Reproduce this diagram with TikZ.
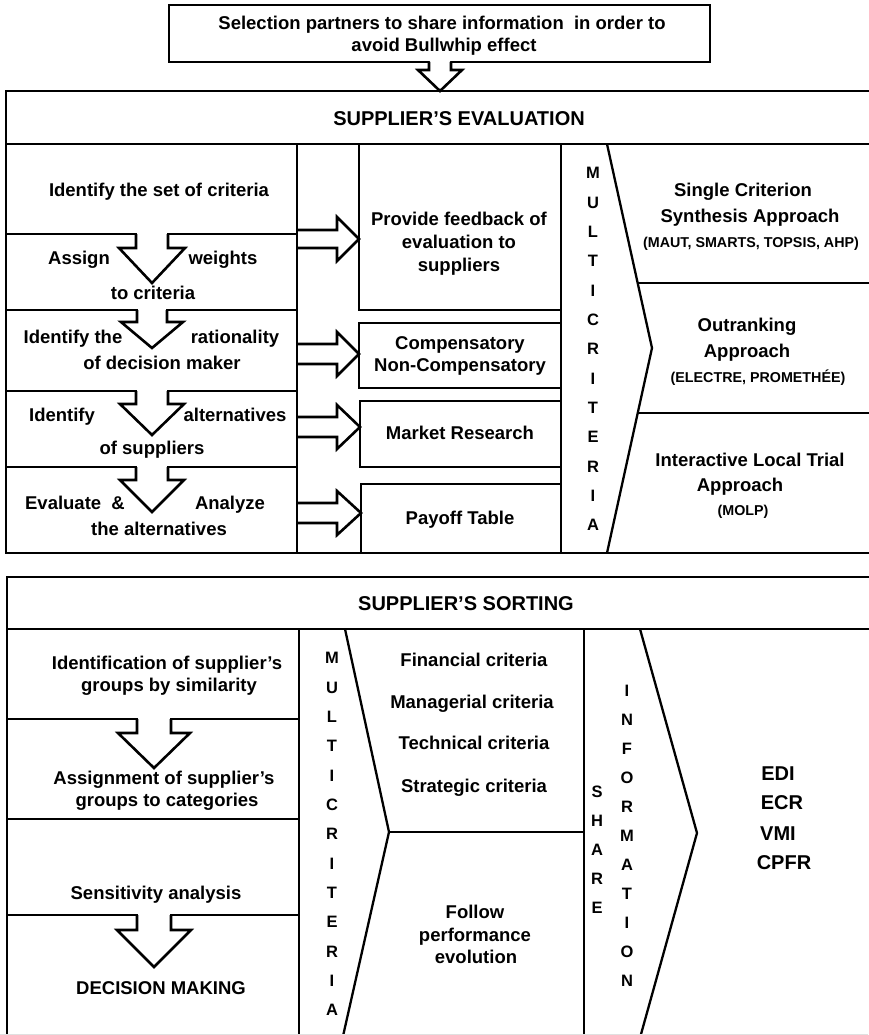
\documentclass[tikz,border=0pt]{standalone}
\usepackage{fontspec}
\setmainfont{Liberation Sans}

% block arrow pointing down: centre x, top y, stem half width, head half width, head y, tip y
\newcommand{\downblock}[6]{%
  \fill[white] (#1-#3+1.3,#2-2.5) rectangle (#1+#3-1.3,#5);
  \draw[frame, fill=white] (#1-#3,#2) -- (#1-#3,#5) -- (#1-#4,#5) -- (#1,#6)
    -- (#1+#4,#5) -- (#1+#3,#5) -- (#1+#3,#2);
}
% block arrow pointing right: start x, centre y, stem half height, head half height, head x, tip x
\newcommand{\rightblock}[6]{%
  \draw[frame, fill=white] (#1,#2-#3) -- (#5,#2-#3) -- (#5,#2-#4) -- (#6,#2)
    -- (#5,#2+#4) -- (#5,#2+#3) -- (#1,#2+#3);
}

\begin{document}
\begin{tikzpicture}[x=1pt, y=-1pt,
    frame/.style={line width=2.6pt, line join=miter},
    chev/.style={line width=2.3pt},
    lbl/.style={font=\fontsize{18.5}{22}\selectfont\bfseries, inner sep=0pt, anchor=base, yshift=-6.5pt},
    title/.style={font=\fontsize{20}{24}\selectfont\bfseries, inner sep=0pt, anchor=base, yshift=-7.2pt},
    method/.style={font=\fontsize{14.3}{17}\selectfont\bfseries, inner sep=0pt, anchor=base, yshift=-5.1pt},
    letter/.style={font=\fontsize{16.5}{20}\selectfont\bfseries, inner sep=0pt, anchor=base, yshift=-5.9pt}]
  \useasboundingbox (0,0) rectangle (868,1035);

  % horizontal block arrows (drawn first, the column line goes on top)
  \rightblock{297}{239}{9}{22}{337}{359}
  \rightblock{297}{354}{10}{22}{337}{359}
  \rightblock{297}{427}{10}{22}{337}{360}
  \rightblock{297}{513}{10}{22}{337}{361}

  % top box
  \draw[frame] (169,5) rectangle (710,62);
  \node[lbl] (sel1) at (442,23) {Selection partners to share information\ \ in order to};
  \node[lbl] (sel2) at (444,45) {avoid Bullwhip effect};

  % ---- supplier's evaluation ----
  \draw[frame] (6,91) rectangle (880,553);
  \draw[frame] (6,144) -- (880,144);
  \node[title] (evalhead) at (459,118) {SUPPLIER’S EVALUATION};

  \draw[frame] (297,144) -- (297,553);
  \foreach \yy in {234,310,391,467}
    \draw[frame] (6,\yy) -- (297,\yy);

  \draw[frame] (359,144) rectangle (561,310);
  \draw[frame] (359,323) rectangle (561,388);
  \draw[frame] (360,401) rectangle (561,467);
  \draw[frame] (361,484) rectangle (561,553);
  \draw[frame] (561,144) -- (561,553);

  \draw[chev] (607,144) -- (652,348) -- (607,553);
  \draw[frame] (638,283) -- (880,283);
  \draw[frame] (638,413) -- (880,413);

  \downblock{440}{62}{11}{22}{70}{91}
  \downblock{152}{234}{16}{33}{248}{283}
  \downblock{152}{310}{15}{31}{322}{348}
  \downblock{152}{391}{16}{32}{404}{435}
  \downblock{152}{467}{16}{32}{480}{512}

  \node[lbl] (crit) at (159,190) {Identify the set of criteria};
  \node[lbl] (assign) at (79,258) {Assign};
  \node[lbl] (weights) at (223,258) {weights};
  \node[lbl] (tocrit) at (153,293) {to criteria};
  \node[lbl] (identthe) at (73,337) {Identify the};
  \node[lbl] (ration) at (235,337) {rationality};
  \node[lbl] (decmaker) at (162,363) {of decision maker};
  \node[lbl] (identify) at (62,415) {Identify};
  \node[lbl] (altern) at (235,415) {alternatives};
  \node[lbl] (ofsupp) at (152,448) {of suppliers};
  \node[lbl] (evaluate) at (75,503) {Evaluate\ \ \&};
  \node[lbl] (analyze) at (230,503) {Analyze};
  \node[lbl] (thealt) at (159,529) {the alternatives};

  \node[lbl] (feed1) at (459,219) {Provide feedback of};
  \node[lbl] (feed2) at (459,242) {evaluation to};
  \node[lbl] (feed3) at (459,265) {suppliers};
  \node[lbl] (comp1) at (460,343) {Compensatory};
  \node[lbl] (comp2) at (460,365) {Non-Compensatory};
  \node[lbl] (market) at (460,433) {Market Research};
  \node[lbl] (payoff) at (460,518) {Payoff Table};

  \foreach \c [count=\i from 0] in {M,U,L,T,I,C,R,I,T,E,R,I,A}
    \node[letter] (multa\i) at (593,173+29.33*\i) {\c};

  \node[lbl] (single1) at (743,190) {Single Criterion};
  \node[lbl] (single2) at (750,216) {Synthesis Approach};
  \node[method] (single3) at (751,242) {(MAUT, SMARTS, TOPSIS, AHP)};
  \node[lbl] (outr1) at (747,325) {Outranking};
  \node[lbl] (outr2) at (747,351) {Approach};
  \node[method] (outr3) at (758,377) {(ELECTRE, PROMETHÉE)};
  \node[lbl] (inter1) at (750,460) {Interactive Local Trial};
  \node[lbl] (inter2) at (740,485) {Approach};
  \node[method] (inter3) at (743,510) {(MOLP)};

  % ---- supplier's sorting ----
  \draw[frame] (7,577) rectangle (880,1045);
  \draw[frame] (7,629) -- (880,629);
  \node[title] (sorthead) at (466,603) {SUPPLIER’S SORTING};

  \draw[frame] (299,629) -- (299,1045);
  \foreach \yy in {719,819,915}
    \draw[frame] (7,\yy) -- (299,\yy);
  \draw[chev] (345,629) -- (389,832) -- (341,1045);
  \draw[frame] (389,832) -- (584,832);
  \draw[frame] (584,629) -- (584,1045);
  \draw[chev] (640,629) -- (697,833) -- (638,1045);
  \draw[black!12, line width=1pt] (0,1034) -- (868,1034);

  \downblock{154}{719}{17}{36}{733}{768}
  \downblock{154}{915}{17}{37}{930}{967}

  \node[lbl] (ident1) at (167,663) {Identification of supplier’s};
  \node[lbl] (ident2) at (169,685) {groups by similarity};
  \node[lbl] (assig1) at (164,778) {Assignment of supplier’s};
  \node[lbl] (assig2) at (167,800) {groups to categories};
  \node[lbl] (sens) at (156,893) {Sensitivity analysis};
  \node[lbl] (decision) at (161,988) {DECISION MAKING};

  \foreach \c [count=\i from 0] in {M,U,L,T,I,C,R,I,T,E,R,I,A}
    \node[letter] (multb\i) at (332,658+29.33*\i) {\c};

  \node[lbl] (financial) at (474,660) {Financial criteria};
  \node[lbl] (managerial) at (472,702) {Managerial criteria};
  \node[lbl] (technical) at (474,743) {Technical criteria};
  \node[lbl] (strategic) at (474,786) {Strategic criteria};
  \node[lbl] (follow1) at (475,912) {Follow};
  \node[lbl] (follow2) at (475,935) {performance};
  \node[lbl] (follow3) at (476,957) {evolution};

  \foreach \c [count=\i from 0] in {S,H,A,R,E}
    \node[letter] (share\i) at (597,792+29*\i) {\c};
  \foreach \c [count=\i from 0] in {I,N,F,O,R,M,A,T,I,O,N}
    \node[letter] (info\i) at (627,691+29*\i) {\c};

  \node[title] (edi) at (778,773) {EDI};
  \node[title] (ecr) at (782,802) {ECR};
  \node[title] (vmi) at (778,833) {VMI};
  \node[title] (cpfr) at (784,862) {CPFR};
\end{tikzpicture}
\end{document}
